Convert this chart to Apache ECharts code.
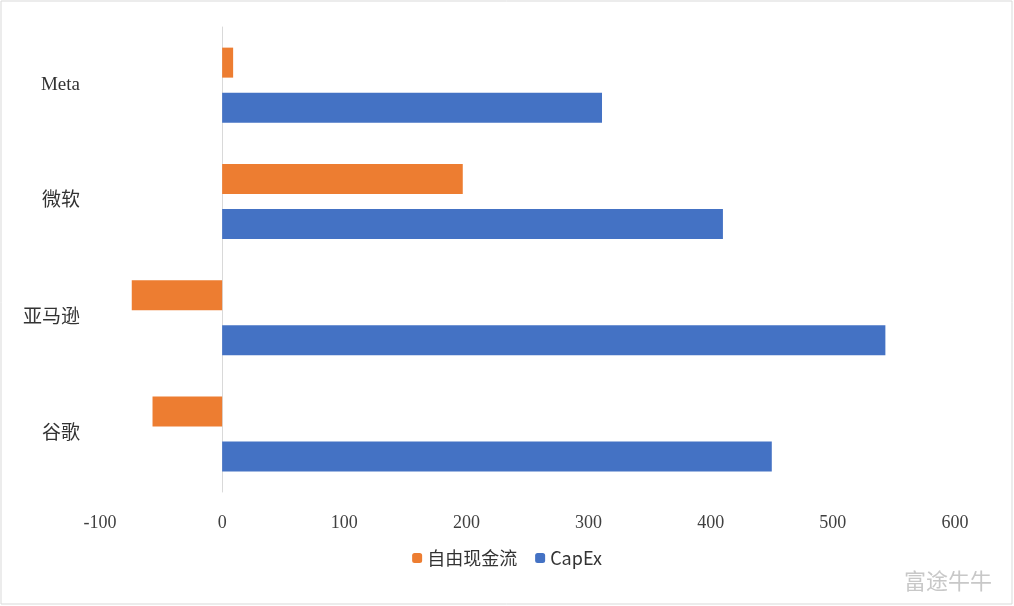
<!DOCTYPE html>
<html><head><meta charset="utf-8">
<script src="https://cdn.jsdelivr.net/npm/echarts@6/dist/echarts.min.js"></script>
<style>html,body{margin:0;padding:0;background:#fff}#c{width:1014px;height:606px}</style>
</head><body><div id="c"></div>
<script>
const categories = ['Meta','微软','亚马逊','谷歌'];
const fcf = [9, 197, -74, -57];
const capex = [311, 410, 543, 450];
const xTicks = [-100, 0, 100, 200, 300, 400, 500, 600];

const chart = echarts.init(document.getElementById('c'));
chart.setOption({
  backgroundColor:'#fff',
  animation:false,
  graphic:[
    {type:'rect',shape:{x:1,y:1,width:1011,height:603},style:{fill:'none',stroke:'#d9d9d9',lineWidth:1}},
    {type:'text',right:22,bottom:14,style:{text:'富途牛牛',fill:'#c8c8c8',font:'22px "Noto Sans CJK SC"'}}
  ],
  grid:{left:100,right:59,top:27,bottom:114},
  legend:{bottom:34,left:'center',itemWidth:10,itemHeight:10,itemGap:18,
    textStyle:{color:'#333',fontSize:18,fontFamily:'"Noto Sans CJK SC", "Liberation Serif"'},
    data:['自由现金流','CapEx']},
  xAxis:{type:'value',min:xTicks[0],max:xTicks[xTicks.length-1],interval:100,
    splitLine:{show:false},axisLine:{show:false},axisTick:{show:false},
    axisLabel:{color:'#404040',fontSize:18,margin:22,fontFamily:'"Liberation Serif"'}},
  yAxis:{type:'category',data:categories,inverse:true,
    axisLine:{show:true,onZero:false,lineStyle:{color:'#d9d9d9'}},axisTick:{show:false},
    axisLabel:{color:'#333',fontSize:19,margin:20,fontFamily:'"Liberation Serif", "Noto Sans CJK SC"'}},
  series:[
    {name:'自由现金流',type:'bar',data:fcf,barWidth:30,barGap:'50%',itemStyle:{color:'#ED7D31'}},
    {name:'CapEx',type:'bar',data:capex,barWidth:30,barGap:'50%',itemStyle:{color:'#4472C4'}}
  ]
});
// move category axis line to x=0 position
chart.setOption({yAxis:{axisLine:{onZero:true}},xAxis:{}});
</script></body></html>
